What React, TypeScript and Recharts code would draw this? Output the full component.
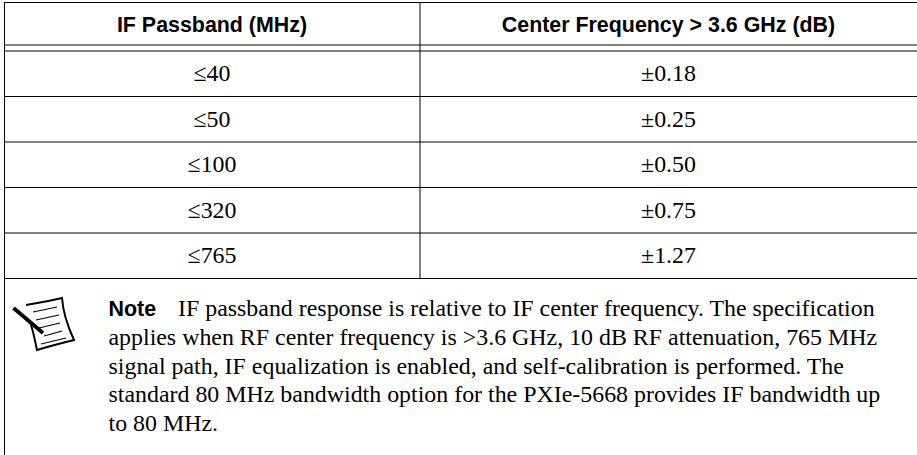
import React from 'react';
import { ComposedChart, Scatter, XAxis, YAxis, ReferenceLine } from 'recharts';

const headers = ['IF Passband (MHz)', 'Center Frequency > 3.6 GHz (dB)'];
const passbands = ['≤40', '≤50', '≤100', '≤320', '≤765'];
const flatness = ['±0.18', '±0.25', '±0.50', '±0.75', '±1.27'];
const noteLabel = 'Note';
const noteLines = [
  'IF passband response is relative to IF center frequency. The specification',
  'applies when RF center frequency is >3.6 GHz, 10 dB RF attenuation, 765 MHz',
  'signal path, IF equalization is enabled, and self-calibration is performed. The',
  'standard 80 MHz bandwidth option for the PXIe-5668 provides IF bandwidth up',
  'to 80 MHz.',
];

const WIDTH = 917;
const HEIGHT = 455;
const LEFT = 4.5;
const SPLIT = 420;
const COL1 = 212;
const COL2 = 668.5;
const SERIF = '"Liberation Serif", serif';
const SANS = '"Liberation Sans", sans-serif';

const rowIndex = passbands.map((_, i) => i);
const col1Data = passbands.map((label, i) => ({ x: COL1, y: i + 0.5, label }));
const col2Data = flatness.map((label, i) => ({ x: COL2, y: i + 0.5, label }));

const CellText = (props: any) => (
  <text x={props.cx} y={props.cy + 7.5} textAnchor="middle" fontFamily={SERIF} fontSize={23.9} fill="#000">
    {props.payload.label}
  </text>
);

const NoteIcon = () => (
  <g fill="none" stroke="#000">
    <path d="M26 305 C38 303 50 301 62 298 C63 312 68 327 74 340 C62 343 50 346 37 350 C35 340 33 330 30 322" strokeWidth={2} />
    <path d="M33 312 L57 307 M36 320 L59 315 M39 328 L60 323 M44 336 L62 331 M41 344 L66 338" strokeWidth={1.1} />
    <path d="M13.5 308 L43 333" strokeWidth={3.8} />
  </g>
);

export default function App() {
  return (
    <div style={{ position: 'absolute', left: 0, top: 0, width: WIDTH, height: HEIGHT, background: '#fff' }}>
      <ComposedChart
        width={WIDTH}
        height={HEIGHT}
        margin={{ top: 51, right: 0, bottom: 176.5, left: LEFT }}
      >
        <XAxis type="number" dataKey="x" domain={[LEFT, WIDTH]} hide />
        <YAxis type="number" dataKey="y" domain={[0, passbands.length]} reversed hide />
        {rowIndex.map(i => (
          <ReferenceLine key={i} y={i + 1} stroke="#000" strokeWidth={1} />
        ))}
        <Scatter data={col1Data} shape={CellText} isAnimationActive={false} />
        <Scatter data={col2Data} shape={CellText} isAnimationActive={false} />

        <line x1={LEFT} x2={WIDTH} y1={2.5} y2={2.5} stroke="#000" />
        <line x1={LEFT} x2={WIDTH} y1={45} y2={45} stroke="#000" />
        <line x1={LEFT} x2={WIDTH} y1={51} y2={51} stroke="#000" />
        <line x1={LEFT} x2={LEFT} y1={2} y2={HEIGHT} stroke="#000" />
        <line x1={SPLIT} x2={SPLIT} y1={3} y2={278} stroke="#000" />

        <text x={COL1} y={31.5} textAnchor="middle" fontFamily={SANS} fontWeight="bold" fontSize={21.4} fill="#000">{headers[0]}</text>
        <text x={COL2} y={31.5} textAnchor="middle" fontFamily={SANS} fontWeight="bold" fontSize={21.4} fill="#000">{headers[1]}</text>

        <NoteIcon />
        <text x={108.5} y={316} fontFamily={SANS} fontWeight="bold" fontSize={21.4} fill="#000">{noteLabel}</text>
        <text x={178} y={316} fontFamily={SERIF} fontSize={23.9} fill="#000">{noteLines[0]}</text>
        {noteLines.slice(1).map((line, i) => (
          <text key={i} x={108.5} y={344.8 + i * 28.8} fontFamily={SERIF} fontSize={23.9} fill="#000">{line}</text>
        ))}
      </ComposedChart>
    </div>
  );
}
